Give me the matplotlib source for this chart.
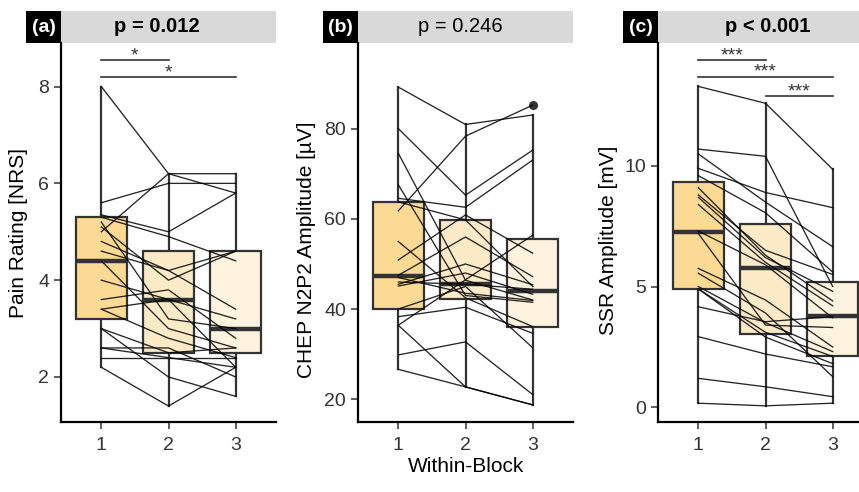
import numpy as np
import matplotlib
matplotlib.use("Agg")
import matplotlib.pyplot as plt
from matplotlib.patches import Rectangle

plt.rcParams['font.family'] = ['Liberation Sans', 'DejaVu Sans']

blocks = [1, 2, 3]
block_labels = ['1', '2', '3']
box_colors = ['#FCDA94', '#FDEAC6', '#FEF3DE']

# (a) pain rating, one value per subject per block
pain_b1 = [8.0, 5.0, 5.6, 5.35, 5.3, 5.2, 5.1, 4.8, 4.6, 4.4, 4.0, 3.6, 3.4, 3.4, 3.0, 2.6, 2.4, 2.2, 3.0, 2.6]
pain_b2 = [6.2, 6.2, 6.0, 5.0, 4.9, 3.2, 4.0, 4.2, 4.2, 3.0, 3.6, 3.8, 2.8, 3.6, 2.5, 2.4, 2.4, 1.4, 2.0, 2.6]
pain_b3 = [5.8, 6.2, 6.0, 5.8, 4.4, 3.0, 4.6, 4.6, 3.4, 2.6, 3.2, 2.8, 2.4, 2.2, 2.6, 2.2, 2.4, 2.2, 1.6, 2.0]
# box stats: q1, median, q3, whisker low, whisker high
pain_q1 = [3.2, 2.5, 2.5]
pain_med = [4.4, 3.6, 3.0]
pain_q3 = [5.3, 4.6, 4.6]
pain_lo = [2.2, 1.4, 1.6]
pain_hi = [8.0, 6.2, 6.2]

# (b) CHEP N2P2 amplitude
chep_b1 = [89.3, 61.8, 80.1, 64.6, 74.6, 67.6, 50.9, 47.5, 45.5, 45.1, 46.0, 47.0, 38.3, 36.4, 29.8, 26.6, 36.4, 40.0, 55.0, 63.8]
chep_b2 = [81.0, 78.4, 65.3, 62.6, 46.4, 43.0, 60.9, 56.0, 50.0, 48.0, 45.5, 43.5, 40.4, 22.7, 32.7, 22.7, 46.5, 45.0, 42.5, 59.8]
chep_b3 = [83.1, 85.3, 75.3, 73.1, 42.0, 41.5, 52.4, 47.2, 45.4, 43.3, 44.4, 41.9, 34.6, 18.7, 21.0, 18.7, 56.4, 31.4, 36.1, 45.0]
chep_q1 = [40.0, 42.3, 36.1]
chep_med = [47.3, 45.5, 44.0]
chep_q3 = [63.8, 59.8, 55.5]
chep_lo = [26.6, 22.7, 18.7]
chep_hi = [89.3, 81.0, 83.1]
chep_out = [[], [], [85.3]]

# (c) SSR amplitude
ssr_b1 = [13.3, 10.7, 10.5, 9.9, 9.6, 9.1, 8.8, 8.7, 8.4, 7.3, 5.75, 5.55, 5.0, 4.9, 4.16, 2.92, 1.19, 0.16, 4.9, 7.2]
ssr_b2 = [12.6, 10.4, 8.5, 8.9, 8.06, 6.3, 6.5, 6.2, 6.0, 5.9, 4.44, 3.9, 3.5, 3.1, 3.54, 2.2, 0.84, 0.05, 2.9, 3.4]
ssr_b3 = [9.86, 5.0, 6.65, 8.27, 5.6, 4.4, 5.5, 4.8, 4.2, 3.7, 2.49, 1.26, 2.3, 2.1, 3.75, 1.67, 0.43, 0.16, 1.8, 3.3]
ssr_q1 = [4.9, 3.02, 2.12]
ssr_med = [7.27, 5.78, 3.79]
ssr_q3 = [9.35, 7.58, 5.2]
ssr_lo = [0.16, 0.05, 0.16]
ssr_hi = [13.3, 12.6, 9.86]

pain_sig = [((1, 2), 8.54, '*'), ((1, 3), 8.19, '*')]
ssr_sig = [((1, 2), 14.4, '***'), ((1, 3), 13.7, '***'), ((2, 3), 12.9, '***')]

panels = [
    dict(tag='(a)', p='p = 0.012', bold=True, px=0.445, ly=0.5,
         data=[pain_b1, pain_b2, pain_b3],
         stats=(pain_q1, pain_med, pain_q3, pain_lo, pain_hi, [[], [], []]),
         ylabel='Pain Rating [NRS]', ylim=(1.07, 8.9), yticks=[2, 4, 6, 8], sig=pain_sig),
    dict(tag='(b)', p='p = 0.246', bold=False, px=0.478, ly=0.455,
         data=[chep_b1, chep_b2, chep_b3],
         stats=(chep_q1, chep_med, chep_q3, chep_lo, chep_hi, chep_out),
         ylabel='CHEP N2P2 Amplitude [µV]', ylim=(14.9, 99.1), yticks=[20, 40, 60, 80], sig=[]),
    dict(tag='(c)', p='p < 0.001', bold=True, px=0.508, ly=0.48,
         data=[ssr_b1, ssr_b2, ssr_b3],
         stats=(ssr_q1, ssr_med, ssr_q3, ssr_lo, ssr_hi, [[], [], []]),
         ylabel='SSR Amplitude [mV]', ylim=(-0.62, 15.1), yticks=[0, 5, 10], sig=ssr_sig),
]

fig = plt.figure(figsize=(8.59, 4.92), dpi=100)
W, H = 859.0, 492.0
lefts = [61, 358, 658]
label_x = [28, 316, 618]   # right edge of the rotated y labels, px
top_px, bot_px = 43, 422
strip_h = 32 / (bot_px - top_px)
dark = '#333333'

for left, lx, pan in zip(lefts, label_x, panels):
    ax = fig.add_axes([left / W, 1 - bot_px / H, 215 / W, (bot_px - top_px) / H])
    q1, med, q3, lo, hi, fl = pan['stats']
    st = [dict(q1=q1[i], med=med[i], q3=q3[i], whislo=lo[i], whishi=hi[i], fliers=fl[i])
          for i in range(3)]
    bp = ax.bxp(st, positions=blocks, widths=0.75, patch_artist=True, showcaps=False,
                boxprops=dict(edgecolor=dark, linewidth=1.6),
                whiskerprops=dict(color=dark, linewidth=1.6),
                medianprops=dict(color=dark, linewidth=3.2),
                flierprops=dict(marker='o', markerfacecolor=dark, markeredgecolor=dark,
                                markersize=5.5))
    for patch, c in zip(bp['boxes'], box_colors):
        patch.set_facecolor(c)
    for w in bp['whiskers']:
        w.set_zorder(1)

    # subject trajectories
    subj = np.array(pan['data']).T
    for row in subj:
        ax.plot(blocks, row, color='black', lw=0.95, alpha=0.85, zorder=4)

    for (x0, x1), y, s in pan['sig']:
        ax.plot([x0, x1], [y, y], color=dark, lw=1.2, zorder=4)
        ax.annotate(s, ((x0 + x1) / 2, y), xytext=(0, -3), textcoords='offset points',
                    ha='center', va='bottom', fontsize=14, color=dark)

    ax.set_xlim(0.4, 3.6)
    ax.set_ylim(*pan['ylim'])
    ax.set_xticks(blocks)
    ax.set_xticklabels(block_labels)
    ax.set_yticks(pan['yticks'])
    ax.tick_params(labelsize=14, labelcolor=dark, color=dark, length=5, width=1.1)
    ax.tick_params(axis='x', pad=6)
    for s in ['top', 'right']:
        ax.spines[s].set_visible(False)
    for s in ['left', 'bottom']:
        ax.spines[s].set_linewidth(1.6)
        ax.spines[s].set_color('black')
    ax.set_ylabel(pan['ylabel'], fontsize=15, color='black')
    ax.yaxis.set_label_coords((lx - left) / 215, pan['ly'])

    # facet strip with panel tag
    ax.add_patch(Rectangle((0, 1), 1, strip_h, transform=ax.transAxes, clip_on=False,
                           facecolor='#D9D9D9', edgecolor='none'))
    tag_w = 35 / 215
    ax.add_patch(Rectangle((-tag_w, 1), tag_w, strip_h, transform=ax.transAxes, clip_on=False,
                           facecolor='black', edgecolor='none'))
    ax.text(-tag_w / 2, 1 + strip_h / 2, pan['tag'], transform=ax.transAxes, ha='center',
            va='center', color='white', fontsize=14, fontweight='bold')
    ax.text(pan['px'], 1 + strip_h / 2, pan['p'], transform=ax.transAxes, ha='center',
            va='center', color='black', fontsize=14.5,
            fontweight='bold' if pan['bold'] else 'normal')

fig.text(466 / W, 1 - 466 / H, 'Within-Block', ha='center', va='center', fontsize=15)

fig.savefig('out.png', dpi=100)
